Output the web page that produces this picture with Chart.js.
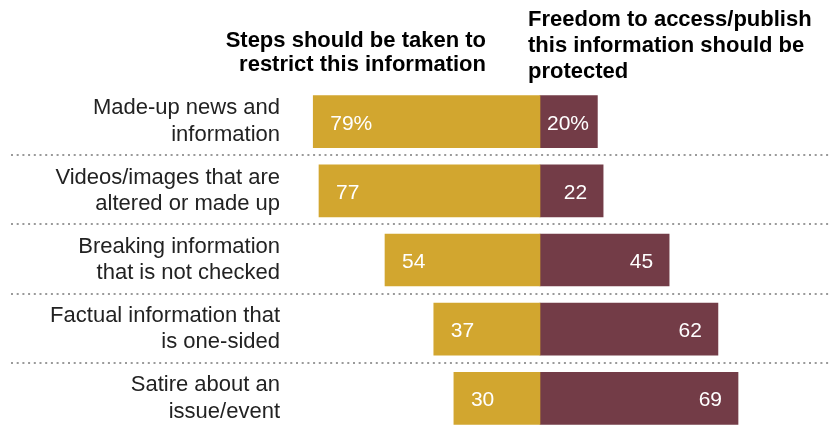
<!DOCTYPE html>
<html>
<head>
<meta charset="utf-8">
<script src="https://cdn.jsdelivr.net/npm/chart.js@4/dist/chart.umd.min.js"></script>
<style>
  html, body { margin: 0; padding: 0; background: #ffffff; }
  #wrap { width: 829px; height: 434px; position: relative; }
</style>
</head>
<body>
<div id="wrap"><canvas id="chart" width="829" height="434"></canvas></div>
<script>
// Chart data
const categories = [
  ['Made-up news and', 'information'],
  ['Videos/images that are', 'altered or made up'],
  ['Breaking information', 'that is not checked'],
  ['Factual information that', 'is one-sided'],
  ['Satire about an', 'issue/event'],
];
const restrictValues = [79, 77, 54, 37, 30];
const protectValues = [20, 22, 45, 62, 69];

const restrictHeader = ['Steps should be taken to', 'restrict this information'];
const protectHeader = ['Freedom to access/publish', 'this information should be', 'protected'];

const GOLD = '#D2A62F';
const MAROON = '#733C47';
const FONT = '"Liberation Sans", Arial, sans-serif';

/**
 * Dotted separators between rows
 */
const separatorPlugin = {
  id: 'separators',
  beforeDatasetsDraw(chart) {
    const { ctx, scales } = chart;
    const y = scales.y;
    ctx.save();
    ctx.strokeStyle = '#9a9a9a';
    ctx.lineWidth = 2;
    ctx.setLineDash([2, 3.7]);
    for (let i = 0; i < categories.length - 1; i++) {
      const py = Math.round((y.getPixelForValue(i) + y.getPixelForValue(i + 1)) / 2) - 1;
      ctx.beginPath();
      ctx.moveTo(11, py);
      ctx.lineTo(chart.width, py);
      ctx.stroke();
    }
    ctx.restore();
  },
};

/**
 * Value labels inside bars + column headers
 */
const labelPlugin = {
  id: 'valueLabels',
  afterDatasetsDraw(chart) {
    const { ctx } = chart;
    ctx.save();
    ctx.font = '21px ' + FONT;
    ctx.fillStyle = '#ffffff';
    ctx.textBaseline = 'alphabetic';

    // Left (restrict) bars
    chart.getDatasetMeta(0).data.forEach((bar, i) => {
      const left = Math.min(bar.x, bar.base);
      const text = restrictValues[i] + (i === 0 ? '%' : '');
      ctx.textAlign = 'left';
      ctx.fillText(text, left + 17, bar.y + 8);
    });

    // Right (protect) bars
    chart.getDatasetMeta(1).data.forEach((bar, i) => {
      const right = Math.max(bar.x, bar.base);
      const center = Math.min(bar.x, bar.base);
      const text = protectValues[i] + (i === 0 ? '%' : '');
      const w = ctx.measureText(text).width;
      if (right - center < w + 28) {
        ctx.textAlign = 'left';
        ctx.fillText(text, center + 7, bar.y + 8);
      } else {
        ctx.textAlign = 'right';
        ctx.fillText(text, right - 16, bar.y + 8);
      }
    });

    // Headers
    ctx.fillStyle = '#000000';
    ctx.font = 'bold 22px ' + FONT;
    ctx.textAlign = 'right';
    restrictHeader.forEach((line, i) => ctx.fillText(line, 486, 47 + i * 24));
    ctx.textAlign = 'left';
    protectHeader.forEach((line, i) => ctx.fillText(line, 528, 26 + i * 26));
    ctx.restore();
  },
};

const ctx = document.getElementById('chart').getContext('2d');
new Chart(ctx, {
  type: 'bar',
  data: {
    labels: categories,
    datasets: [
      {
        label: 'Restrict',
        data: restrictValues.map((v) => -v),
        backgroundColor: GOLD,
        barThickness: 52,
      },
      {
        label: 'Protect',
        data: protectValues,
        backgroundColor: MAROON,
        barThickness: 52,
      },
    ],
  },
  options: {
    indexAxis: 'y',
    responsive: false,
    animation: false,
    layout: { padding: { top: 87, bottom: 1, left: 0, right: 0 } },
    plugins: {
      legend: { display: false },
      tooltip: { enabled: false },
    },
    scales: {
      x: {
        stacked: true,
        min: -87.1,
        max: 100.7,
        display: false,
      },
      y: {
        stacked: true,
        grid: { display: false, drawTicks: false },
        border: { display: false },
        afterFit: (scale) => {
          scale.width = 290;
          scale.paddingTop = 0;
          scale.paddingBottom = 0;
        },
        ticks: {
          padding: 10,
          color: '#222222',
          font: { family: FONT, size: 22, lineHeight: 1.2 },
        },
      },
    },
  },
  plugins: [separatorPlugin, labelPlugin],
});
</script>
</body>
</html>
